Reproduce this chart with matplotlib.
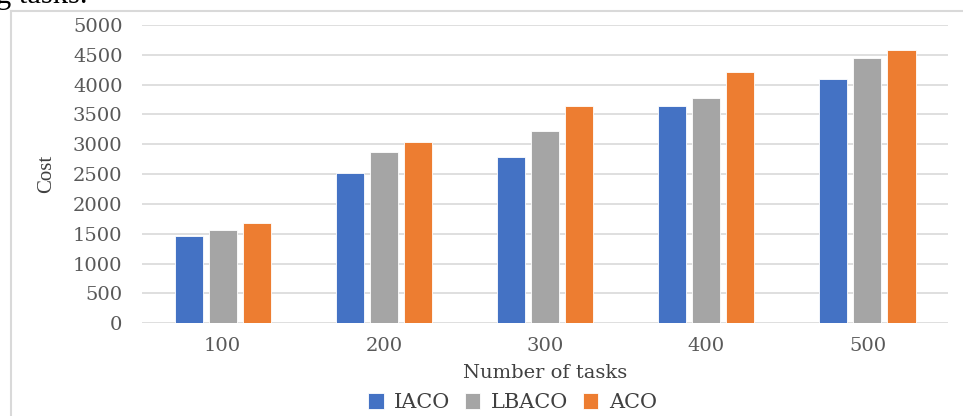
import numpy as np
import matplotlib
matplotlib.use("Agg")
import matplotlib.pyplot as plt
from matplotlib.lines import Line2D

# Cost per algorithm for each task count
tasks = ["100", "200", "300", "400", "500"]
iaco = [1460, 2520, 2780, 3650, 4100]
lbaco = [1570, 2870, 3220, 3780, 4450]
aco = [1680, 3040, 3650, 4210, 4580]
yticks = [0, 500, 1000, 1500, 2000, 2500, 3000, 3500, 4000, 4500, 5000]

series = [("IACO", iaco, "#4472C4"),
          ("LBACO", lbaco, "#A5A5A5"),
          ("ACO", aco, "#ED7D31")]

fig = plt.figure(figsize=(9.63, 4.16), dpi=100)
ax = fig.add_axes([0.1475, 0.2228, 0.8370, 0.7171])

x = np.arange(len(tasks))
width = 0.174
step = 0.211
for i, (name, vals, col) in enumerate(series):
    ax.bar(x + (i - 1) * step, vals, width, color=col, label=name,
           edgecolor="white", linewidth=0.6, zorder=3)

ax.set_xlim(-0.5, len(tasks) - 0.5)
ax.set_ylim(0, 5000)
ax.set_yticks(yticks)
ax.set_xticks(x)
ax.set_xticklabels(tasks)
ax.grid(axis="y", color="#d9d9d9", linewidth=1.2, zorder=0)
for s in ax.spines.values():
    s.set_visible(False)
ax.tick_params(length=0, labelcolor="#595959", labelsize=14)
ax.tick_params(axis="y", pad=14)
ax.tick_params(axis="x", pad=10)
for lab in ax.get_xticklabels() + ax.get_yticklabels():
    lab.set_family("DejaVu Serif")

ax.set_ylabel("Cost", family="Liberation Serif", fontsize=15, color="#404040",
              labelpad=12)
ax.set_xlabel("Number of tasks", family="DejaVu Serif", fontsize=14,
              color="#404040", labelpad=6)

leg = fig.legend(loc="center", bbox_to_anchor=(0.532, 0.032), ncol=3,
                 frameon=False, handlelength=0.75, handleheight=0.75,
                 handletextpad=0.5, columnspacing=0.7,
                 prop={"family": "DejaVu Serif", "size": 15})
for t in leg.get_texts():
    t.set_color("#404040")

# surrounding frame of the chart area and the cut-off caption line above it
fig.add_artist(Line2D([11 / 963, 11 / 963], [0, 1 - 11 / 416],
                      transform=fig.transFigure, color="#d9d9d9", lw=1.5))
fig.add_artist(Line2D([11 / 963, 1], [1 - 11 / 416, 1 - 11 / 416],
                      transform=fig.transFigure, color="#d9d9d9", lw=1.5))
fig.text(-0.004, 1 - 3 / 416, "g tasks.", family="Liberation Serif",
         fontsize=22, color="black", va="baseline")

fig.savefig("out.png", dpi=100, facecolor="white")
